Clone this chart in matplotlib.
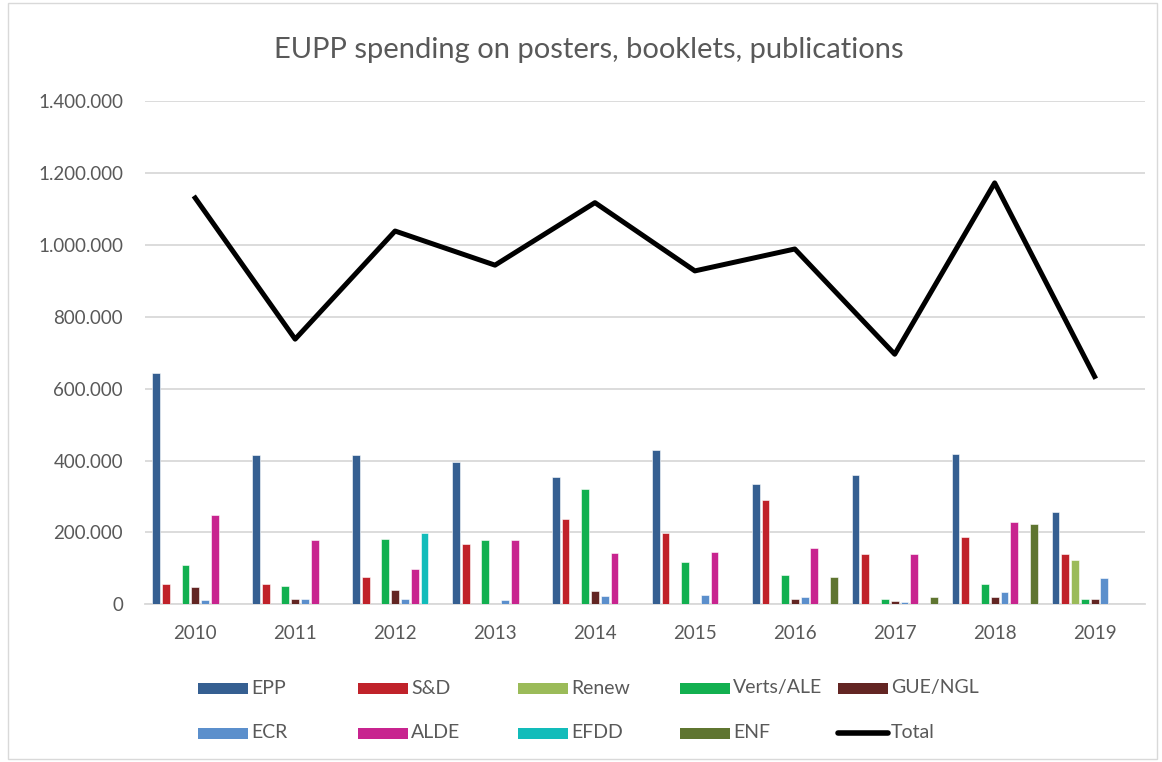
import matplotlib
matplotlib.use('Agg')
import matplotlib.pyplot as plt
from matplotlib.ticker import FuncFormatter
from matplotlib.patches import Rectangle
from matplotlib.lines import Line2D
import numpy as np

plt.rcParams['font.family'] = ['Lato', 'DejaVu Sans']

years = ['2010', '2011', '2012', '2013', '2014', '2015', '2016', '2017', '2018', '2019']

# values in euro
epp = [645000, 415000, 415000, 396000, 354000, 430000, 335000, 360000, 418000, 258000]
sd = [56000, 56000, 76000, 168000, 237000, 197000, 291000, 139000, 186000, 139000]
renew = [0, 0, 0, 0, 0, 0, 0, 0, 0, 124000]
verts = [110000, 51000, 182000, 178000, 320000, 117000, 81000, 16000, 56000, 16000]
gue = [48000, 16000, 41000, 0, 37000, 0, 16000, 8500, 19000, 16000]
ecr = [12000, 16000, 16000, 12000, 23000, 25000, 19000, 5000, 34000, 74000]
alde = [248000, 178000, 99000, 178000, 142000, 146000, 157000, 139000, 229000, 0]
efdd = [0, 0, 197000, 0, 0, 0, 0, 0, 0, 0]
enf = [0, 0, 0, 0, 0, 0, 76000, 19000, 223000, 0]
total = [1131000, 738000, 1039000, 944000, 1118000, 928000, 989000, 696000, 1173000, 634000]

groups = ['EPP', 'S&D', 'Renew', 'Verts/ALE', 'GUE/NGL', 'ECR', 'ALDE', 'EFDD', 'ENF']
series = [epp, sd, renew, verts, gue, ecr, alde, efdd, enf]
colors = ['#355F91', '#C0222A', '#9BBB59', '#12B050', '#632523',
          '#5B8FCC', '#C8248F', '#12BCBA', '#5F7530']
GREY = '#595959'

fig = plt.figure(figsize=(11.62, 7.62), dpi=100)
ax = fig.add_axes([0.125, 0.207, 0.86, 0.66])

x = np.arange(len(years))
slot = 0.098
for i, (name, vals, c) in enumerate(zip(groups, series, colors)):
    off = (i - 4) * slot
    ax.bar(x + off, vals, width=slot * 0.8, color=c, edgecolor='white',
           linewidth=0.4, zorder=3)
ax.plot(x, total, color='black', linewidth=3.6, zorder=4)

ax.set_xlim(-0.5, len(years) - 0.5)
ax.set_ylim(0, 1400000)
ax.set_yticks(np.arange(0, 1400001, 200000))
ax.yaxis.set_major_formatter(FuncFormatter(lambda v, p: '0' if v == 0 else f'{int(v):,}'.replace(',', '.')))
ax.set_xticks(x)
ax.set_xticklabels(years)
ax.tick_params(axis='both', length=0, labelsize=13.5, colors=GREY)
ax.tick_params(axis='y', pad=16)
ax.tick_params(axis='x', pad=15)
ax.grid(axis='y', color='#D9D9D9', linewidth=1.3, zorder=0)
for s in ['top', 'right', 'left']:
    ax.spines[s].set_visible(False)
ax.spines['bottom'].set_color('#D9D9D9')
ax.spines['bottom'].set_linewidth(1.3)

fig.text(0.507, 0.934, 'EUPP spending on posters, booklets, publications',
         ha='center', va='center', fontsize=21, color=GREY)

# legend: Excel-style grid, 5 equal columns, 2 rows
leg_names = groups + ['Total']
leg_colors = colors + ['black']
W, H = 1162.0, 762.0
col_x = [198, 358, 518, 680, 838]
row_y = [688, 733]
for k, (name, c) in enumerate(zip(leg_names, leg_colors)):
    cx = col_x[k % 5] / W
    cy = 1 - row_y[k // 5] / H
    if name == 'Total':
        fig.add_artist(Line2D([cx, cx + 50 / W], [cy, cy], color=c, linewidth=4,
                              solid_capstyle='round', transform=fig.transFigure))
    else:
        fig.add_artist(Rectangle((cx, cy - 5.5 / H), 50 / W, 11 / H, facecolor=c,
                                 edgecolor='none', transform=fig.transFigure))
    fig.text(cx + 53 / W, cy, name, ha='left', va='center', fontsize=14, color=GREY)

fig.add_artist(Rectangle((0.007, 0.004), 0.989, 0.992, transform=fig.transFigure,
                         fill=False, edgecolor='#D9D9D9', linewidth=1))

fig.savefig('out.png', dpi=100)
